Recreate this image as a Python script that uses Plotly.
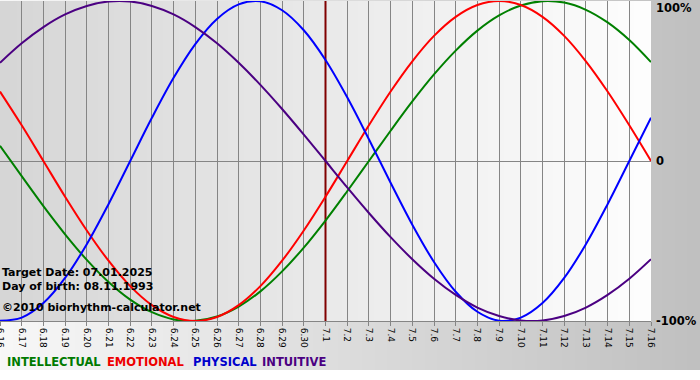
import zlib, struct, base64
import plotly.graph_objects as go

# ---------------- data ----------------
dates = ["6.16", "6.17", "6.18", "6.19", "6.20", "6.21", "6.22", "6.23", "6.24", "6.25",
         "6.26", "6.27", "6.28", "6.29", "6.30", "7.1", "7.2", "7.3", "7.4", "7.5",
         "7.6", "7.7", "7.8", "7.9", "7.10", "7.11", "7.12", "7.13", "7.14", "7.15", "7.16"]

physical = [-0.998, -0.979, -0.888, -0.731, -0.520, -0.270, 0.000, 0.270, 0.520, 0.731,
            0.888, 0.979, 0.998, 0.942, 0.817, 0.631, 0.398, 0.136, -0.136, -0.398,
            -0.631, -0.817, -0.942, -0.998, -0.979, -0.888, -0.731, -0.520, -0.270, 0.000, 0.270]

emotional = [0.434, 0.223, 0.000, -0.223, -0.434, -0.623, -0.782, -0.901, -0.975, -1.000,
             -0.975, -0.901, -0.782, -0.623, -0.434, -0.223, 0.000, 0.223, 0.434, 0.623,
             0.782, 0.901, 0.975, 1.000, 0.975, 0.901, 0.782, 0.623, 0.434, 0.223, 0.000]

intellectual = [0.095, -0.095, -0.282, -0.458, -0.618, -0.756, -0.866, -0.945, -0.990, -0.999,
                -0.972, -0.910, -0.815, -0.690, -0.541, -0.372, -0.189, 0.000, 0.189, 0.372,
                0.541, 0.690, 0.815, 0.910, 0.972, 0.999, 0.990, 0.945, 0.866, 0.756, 0.618]

intuitive = [0.614, 0.736, 0.837, 0.916, 0.969, 0.997, 0.997, 0.969, 0.916, 0.837,
             0.736, 0.614, 0.476, 0.325, 0.165, 0.000, -0.165, -0.325, -0.476, -0.614,
             -0.736, -0.837, -0.916, -0.969, -0.997, -0.997, -0.969, -0.916, -0.837, -0.736, -0.614]

target = "7.1"
y_ticks = [1, 0, -1]
y_tick_labels = ["100%", "0", "-100%"]
info_lines = ["Target Date: 07.01.2025", "Day of birth: 08.11.1993", "\u00a92010 biorhythm-calculator.net"]
legend_names = ["INTELLECTUAL", "EMOTIONAL", "PHYSICAL", "INTUITIVE"]

# ---------------- styles ----------------
COL = {"INTELLECTUAL": "#008000", "EMOTIONAL": "#ff0000", "PHYSICAL": "#0000ff", "INTUITIVE": "#4b0082"}
LEG_COL = {"INTELLECTUAL": "#007a00", "EMOTIONAL": "#ee0000", "PHYSICAL": "#0000cc", "INTUITIVE": "#4b0082"}
FONT = "DejaVu Sans, Verdana, sans-serif"

W, H = 700, 380
ML, MR, MT, MB = 0, 49, 1, 59
PW, PH = W - ML - MR, H - MT - MB

# background image (gradients)
def make_png():
    band_bottom = 370
    rows = []
    for y in range(H):
        row = bytearray([0])
        for x in range(W):
            if y >= band_bottom:
                v = 255
            elif ML <= x < ML + PW and MT <= y < MT + PH:
                v = int(214 + (254 - 214) * (x - ML) / (PW - 1))
            else:
                v = int(248 - (248 - 192) * x / (W - 1))
            row.append(v)
        rows.append(bytes(row))
    raw = b"".join(rows)

    def chunk(t, d):
        c = struct.pack(">I", len(d)) + t + d
        return c + struct.pack(">I", zlib.crc32(t + d) & 0xffffffff)

    png = (b"\x89PNG\r\n\x1a\n" + chunk(b"IHDR", struct.pack(">IIBBBBB", W, H, 8, 0, 0, 0, 0))
           + chunk(b"IDAT", zlib.compress(raw, 9)) + chunk(b"IEND", b""))
    return "data:image/png;base64," + base64.b64encode(png).decode()

fig = go.Figure()

# target date marker line
fig.add_trace(go.Scatter(x=[target, target], y=[-1, 1], mode="lines",
                         line=dict(color="#800000", width=2), hoverinfo="skip", showlegend=False))

series = [("INTELLECTUAL", intellectual), ("EMOTIONAL", emotional),
          ("PHYSICAL", physical), ("INTUITIVE", intuitive)]
for name, vals in series:
    fig.add_trace(go.Scatter(x=dates, y=vals, mode="lines", name=name,
                             line=dict(color=COL[name], width=2, shape="spline"),
                             showlegend=False))

annotations = []
# right-hand labels
shifts = {1: -7, 0: 0, -1: 0}
for v, lab in zip(y_ticks, y_tick_labels):
    annotations.append(dict(x=1, xref="paper", y=v, yref="y", text="<b>%s</b>" % lab, showarrow=False,
                            xanchor="left", xshift=3, yshift=shifts[v],
                            font=dict(family=FONT, size=11.5, color="#000000")))
# info text
info_y = [272, 286, 307]
for txt, yp in zip(info_lines, info_y):
    annotations.append(dict(x=0, xref="paper", y=(MT + PH - yp) / PH, yref="paper", text="<b>%s</b>" % txt,
                            showarrow=False, xanchor="left", yanchor="middle", xshift=0,
                            font=dict(family=FONT, size=11, color="#000000")))
# legend text
leg_x = [5, 105, 191, 260]
for name, xp in zip(legend_names, leg_x):
    annotations.append(dict(x=xp / PW, xref="paper", y=(MT + PH - 362) / PH, yref="paper",
                            text="<b>%s</b>" % name, showarrow=False, xanchor="left", yanchor="middle",
                            font=dict(family=FONT, size=11.5, color=LEG_COL[name])))

fig.update_layout(
    width=W, height=H,
    margin=dict(l=ML, r=MR, t=MT, b=MB, pad=0, autoexpand=False),
    paper_bgcolor="#ffffff",
    plot_bgcolor="rgba(0,0,0,0)",
    showlegend=False,
    annotations=annotations,
    images=[dict(source=make_png(), xref="paper", yref="paper", x=-ML / PW, y=1 + MT / PH,
                 sizex=W / PW, sizey=H / PH, xanchor="left", yanchor="top",
                 sizing="stretch", layer="below")],
    xaxis=dict(type="category", categoryorder="array", categoryarray=dates,
               range=[0, len(dates) - 1], showgrid=True, gridcolor="#858585", gridwidth=1,
               tickangle=90, ticks="outside", ticklen=4, tickcolor="#858585",
               tickfont=dict(family=FONT, size=9, color="#000000"), automargin=False,
               showline=True, linecolor="#858585", linewidth=1, zeroline=False, fixedrange=True),
    yaxis=dict(range=[-1, 1], showgrid=False, showticklabels=False, zeroline=True, automargin=False,
               zerolinecolor="#858585", zerolinewidth=1, fixedrange=True),
)

fig.write_html("out.html", config={"displayModeBar": False},
               post_script="document.body.style.margin='0px';document.body.style.padding='0px';")
